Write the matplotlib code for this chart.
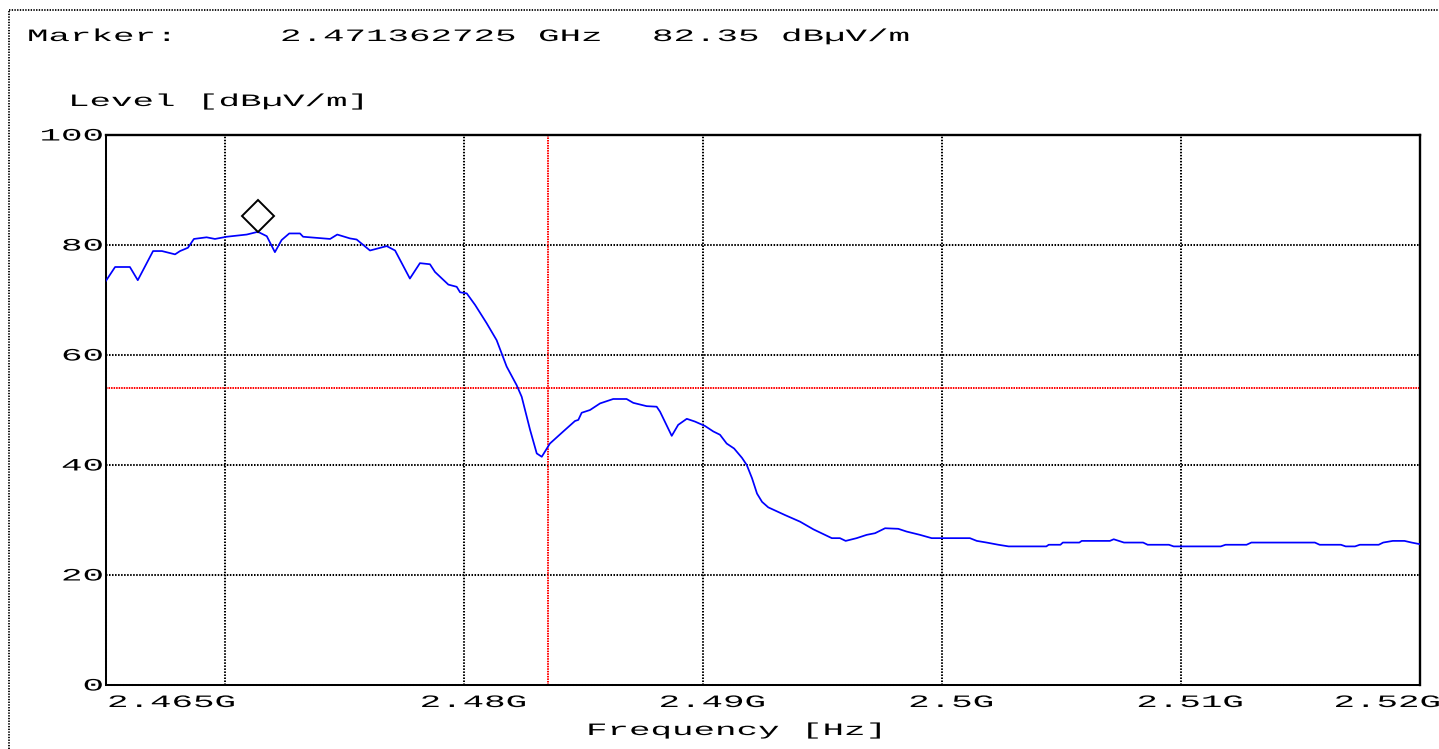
import matplotlib
matplotlib.use("Agg")
import matplotlib.pyplot as plt
import numpy as np
from matplotlib import patheffects
from matplotlib.transforms import Affine2D, IdentityTransform, ScaledTranslation
from matplotlib.lines import Line2D

# ---------------- data ----------------
freq_mhz = [2465.00, 2465.38, 2466.00, 2466.33, 2466.97, 2467.34, 2467.89, 2468.10,
            2468.43, 2468.68, 2469.21, 2469.56, 2470.05, 2470.89, 2471.36, 2471.73,
            2472.07, 2472.35, 2472.67, 2473.12, 2473.25, 2474.38, 2474.68, 2475.21,
            2475.49, 2476.05, 2476.75, 2477.10, 2477.72, 2478.14, 2478.56, 2478.77,
            2479.33, 2479.68, 2479.82, 2480.10, 2480.45, 2480.93, 2481.35, 2481.77,
            2482.19, 2482.40, 2482.75, 2483.03, 2483.24, 2483.58, 2484.14, 2484.63,
            2484.77, 2484.91, 2485.26, 2485.68, 2486.23, 2486.79, 2487.07, 2487.63,
            2488.05, 2488.19, 2488.68, 2488.95, 2489.31, 2489.65, 2490.07, 2490.42,
            2490.70, 2490.98, 2491.29, 2491.62, 2491.82, 2492.04, 2492.25, 2492.46,
            2492.72, 2493.42, 2494.05, 2494.61, 2495.38, 2495.72, 2495.96, 2496.42,
            2496.84, 2497.19, 2497.61, 2498.16, 2498.51, 2499.07, 2499.56, 2501.16,
            2501.45, 2501.86, 2502.35, 2502.78, 2504.36, 2504.46, 2504.95, 2505.05,
            2505.74, 2505.84, 2507.02, 2507.18, 2507.61, 2508.41, 2508.60, 2509.49,
            2509.69, 2511.66, 2511.86, 2512.74, 2512.94, 2515.60, 2515.80, 2516.69,
            2516.89, 2517.28, 2517.48, 2518.27, 2518.46, 2518.86, 2519.35, 2519.65,
            2520.00]
level_dbuv = [73.5, 76.0, 76.0, 73.6, 78.9, 78.9, 78.3, 78.9,
              79.5, 81.1, 81.4, 81.1, 81.5, 81.9, 82.4, 81.6,
              78.7, 80.9, 82.1, 82.1, 81.5, 81.1, 81.9, 81.2,
              81.0, 79.0, 79.8, 79.0, 73.9, 76.7, 76.5, 75.1,
              72.8, 72.4, 71.4, 71.2, 69.1, 65.8, 62.7, 57.9,
              54.5, 52.4, 46.4, 42.1, 41.5, 43.9, 46.1, 48.0,
              48.2, 49.5, 50.0, 51.2, 52.0, 52.0, 51.3, 50.7,
              50.6, 49.7, 45.3, 47.3, 48.4, 47.9, 47.1, 46.1,
              45.5, 43.9, 43.0, 41.3, 40.0, 37.6, 34.8, 33.3,
              32.3, 30.9, 29.7, 28.3, 26.7, 26.7, 26.2, 26.7,
              27.3, 27.6, 28.5, 28.4, 27.9, 27.3, 26.7, 26.7,
              26.2, 25.9, 25.5, 25.2, 25.2, 25.5, 25.5, 25.9,
              25.9, 26.2, 26.2, 26.5, 25.9, 25.9, 25.5, 25.5,
              25.2, 25.2, 25.5, 25.5, 25.9, 25.9, 25.5, 25.5,
              25.2, 25.2, 25.5, 25.5, 25.9, 26.2, 26.2, 25.9,
              25.6]
marker_freq_ghz = 2.471362725
marker_level = 82.35
limit_level = 54
band_edge_ghz = 2.4835
grid_x_ghz = [2.47, 2.48, 2.49, 2.50, 2.51]
grid_y = [20, 40, 60, 80]
x_label_ticks_ghz = [2.465, 2.48, 2.49, 2.50, 2.51, 2.52]
x_tick_labels = ["2.465G", "2.48G", "2.49G", "2.5G", "2.51G", "2.52G"]
y_label_ticks = [0, 20, 40, 60, 80, 100]
y_tick_labels = ["0", "20", "40", "60", "80", "100"]
marker_text = ["Marker:", "2.471362725 GHz", "82.35 dBµV/m"]
y_title = "Level [dBµV/m]"
x_title = "Frequency [Hz]"

# ---------------- style ----------------
W, H, DPI = 1439, 749, 100
FS = 12.5                      # points
ADV = 0.6 * FS * DPI / 72.0    # mono advance in px
PITCH = 21.5                   # target px per character
SX = PITCH / ADV               # horizontal stretch of the lettering
FONT = "Liberation Mono"


class HStretch(patheffects.AbstractPathEffect):
    """Draws text glyphs stretched horizontally about the text origin."""
    def __init__(self, sx):
        super().__init__()
        self.sx = sx

    def draw_path(self, renderer, gc, tpath, affine, rgbFace=None):
        renderer.draw_path(gc, tpath, Affine2D().scale(self.sx, 1.0) + affine, rgbFace)


fig = plt.figure(figsize=(W / DPI, H / DPI), dpi=DPI)
fig.patch.set_facecolor("white")

L, R, T, B = 106, 1420, 135, 685
ax = fig.add_axes([L / W, 1 - B / H, (R - L) / W, (B - T) / H])
ax.set_xlim(2.465, 2.52)
ax.set_ylim(0, 100)
ax.set_xticks(grid_x_ghz)
ax.set_yticks(grid_y)
ax.tick_params(length=0, labelbottom=False, labelleft=False)
ax.grid(True, color="black", lw=1.45, ls=(0, (0.75, 0.75)), zorder=1)
ax.set_axisbelow(True)

for s in ("top", "right"):
    ax.spines[s].set_linewidth(1.7)
    ax.spines[s].set_color("black")
for s in ("left", "bottom"):
    ax.spines[s].set_linewidth(1.45)
    ax.spines[s].set_linestyle((0, (0.75, 0.75)))
    ax.spines[s].set_color("black")

ax.axhline(limit_level, color="#ff0000", lw=1.4, ls=(0, (0.8, 0.5)), zorder=2)
ax.axvline(band_edge_ghz, color="#ff0000", lw=1.4, ls=(0, (0.8, 0.5)), zorder=2)

ax.plot(np.array(freq_mhz) / 1000.0, level_dbuv, color="#0000ff", lw=1.25, zorder=3)

off = ScaledTranslation(0, 0.16, fig.dpi_scale_trans)
ax.plot([marker_freq_ghz], [marker_level], marker="D", ms=16.3, mfc="none",
        mec="black", mew=1.4, ls="none", transform=ax.transData + off,
        clip_on=False, zorder=4)

# figure frame (dotted)
fig.add_artist(Line2D([9 / W, 1], [1 - 10 / H, 1 - 10 / H], transform=fig.transFigure,
                      color="black", lw=1.3, ls=(0, (0.75, 0.75))))
fig.add_artist(Line2D([9 / W, 9 / W], [0, 1 - 10 / H], transform=fig.transFigure,
                      color="black", lw=1.3, ls=(0, (0.75, 0.75))))


def put(s, x_left, baseline_from_top):
    fig.text(x_left, H - baseline_from_top, s, transform=IdentityTransform(),
             ha="left", va="baseline", fontsize=FS, family=FONT, color="black",
             path_effects=[HStretch(SX)])


# header
put(marker_text[0], 27, 41)
put(marker_text[1], 280, 41)
put(marker_text[2], 652, 41)
put(y_title, 68, 106)
put(x_title, 586, 735)

# y tick labels
for v, lab in zip(y_label_ticks, y_tick_labels):
    ypx = H - ax.transData.transform((2.465, v))[1]
    put(lab, 104 - len(lab) * PITCH, ypx + 5.5)

# x tick labels
n = len(x_tick_labels)
for i, (t, lab) in enumerate(zip(x_label_ticks_ghz, x_tick_labels)):
    xpx = ax.transData.transform((t, 0))[0]
    w = len(lab) * PITCH
    if i == 0:
        left = xpx + 1
    elif i == n - 1:
        left = W + 2 - w
    else:
        left = xpx + 9 - w / 2
    put(lab, left, 707)

fig.savefig("out.png", dpi=DPI)
